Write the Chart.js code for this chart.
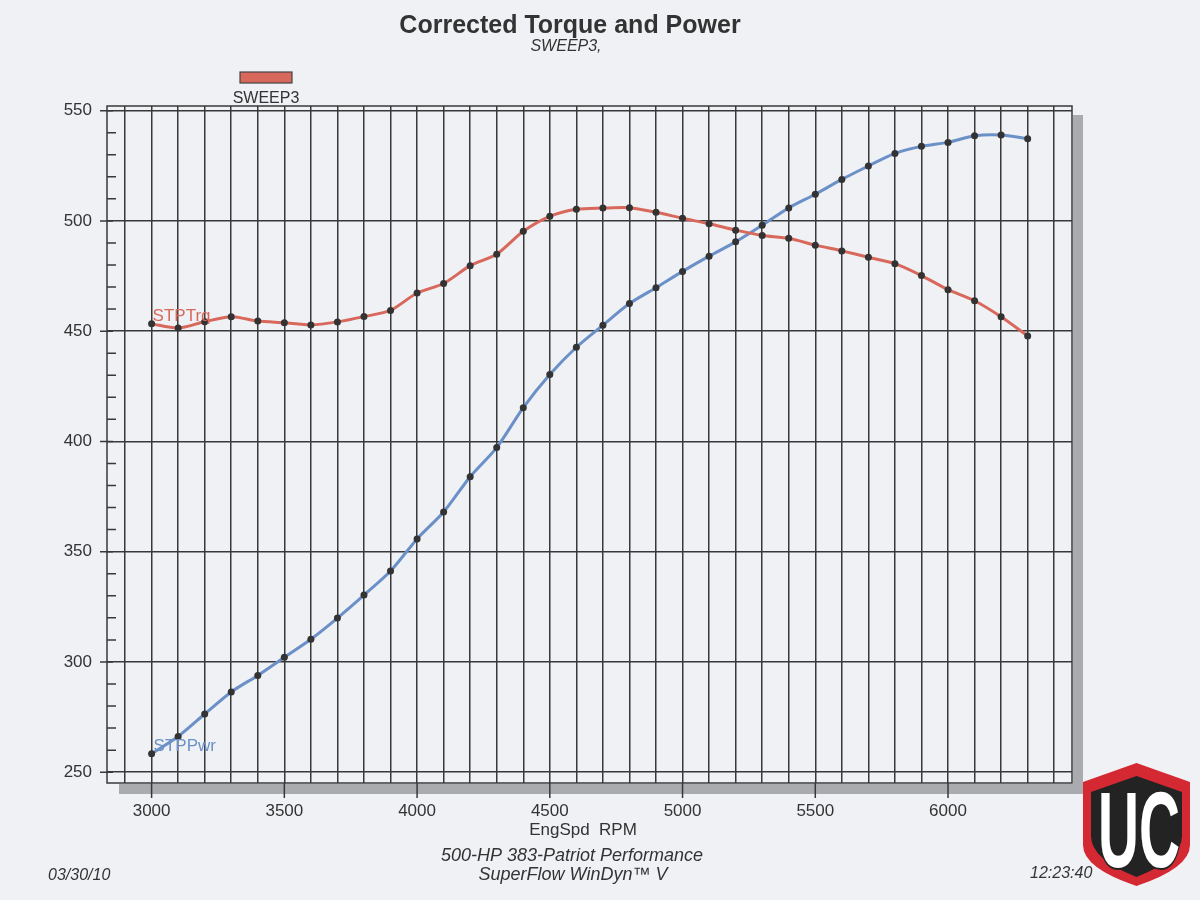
<!DOCTYPE html>
<html>
<head>
<meta charset="utf-8">
<script src="https://cdn.jsdelivr.net/npm/chart.js@4/dist/chart.umd.min.js"></script>
<style>
  body { margin: 0; background: #eff1f4; }
  #wrap { width: 1200px; height: 900px; }
</style>
</head>
<body>
<div id="wrap"><canvas id="dynoChart" width="1200" height="900"></canvas></div>
<script>
// engine speed (rpm) of each logged point
const rpm = [3000, 3100, 3200, 3300, 3400, 3500, 3600, 3700, 3800, 3900,
    4000, 4100, 4200, 4300, 4400, 4500, 4600, 4700, 4800, 4900,
    5000, 5100, 5200, 5300, 5400, 5500, 5600, 5700, 5800, 5900,
    6000, 6100, 6200, 6300]
// STPTrq (lb-ft)
const torque = [453.3, 451.4, 454.3, 456.5, 454.6, 453.8, 452.8, 454.2, 456.6, 459.4,
    467.3, 471.6, 479.7, 484.9, 495.3, 502.1, 505.3, 505.8, 506.0, 503.9,
    501.2, 498.7, 495.8, 493.4, 492.1, 489.0, 486.4, 483.5, 480.6, 475.2,
    468.8, 463.8, 456.5, 447.8]
// STPPwr (hp)
const power = [258.4, 266.2, 276.4, 286.4, 293.9, 302.1, 310.3, 319.9, 330.3, 341.2,
    355.8, 368.0, 384.0, 397.2, 415.3, 430.3, 442.7, 452.7, 462.5, 469.7,
    477.1, 484.0, 490.5, 498.0, 505.9, 512.1, 518.8, 524.9, 530.6, 533.8,
    535.6, 538.6, 539.0, 537.3]
const xTicks = [2900, 3000, 3100, 3200, 3300, 3400, 3500, 3600, 3700, 3800, 3900,
    4000, 4100, 4200, 4300, 4400, 4500, 4600, 4700, 4800, 4900, 5000, 5100,
    5200, 5300, 5400, 5500, 5600, 5700, 5800, 5900, 6000, 6100, 6200, 6300, 6400]
const yTicks = [250, 300, 350, 400, 450, 500, 550]
const yMinorTicks = [260, 270, 280, 290, 310, 320, 330, 340, 360, 370, 380, 390,
    410, 420, 430, 440, 460, 470, 480, 490, 510, 520, 530, 540]

const RED = '#d9685c'
const BLUE = '#6b90c8'
const INK = '#383838'
const FONT = '"Liberation Sans", Arial, sans-serif'

const paperPlugin = {
    id: 'paper',
    beforeDraw(chart) {
        const { ctx, chartArea: a } = chart
        ctx.save()
        ctx.fillStyle = '#eff1f4'
        ctx.fillRect(0, 0, chart.width, chart.height)
        // drop shadow of the plot box
        ctx.fillStyle = '#a9abae'
        ctx.fillRect(a.right + 1, a.top + 9, 10, a.bottom - a.top + 1)
        ctx.fillRect(a.left + 12, a.bottom + 1, a.right - a.left - 1, 10)
        ctx.restore()
    },
    beforeDatasetsDraw(chart) {
        const { ctx, chartArea: a, scales } = chart
        ctx.save()
        ctx.strokeStyle = INK
        ctx.lineWidth = 1.5
        ctx.strokeRect(a.left, a.top, a.right - a.left, a.bottom - a.top)
        ctx.beginPath()
        yTicks.forEach((v) => {
            const y = scales.y.getPixelForValue(v)
            ctx.moveTo(a.left - 7, y)
            ctx.lineTo(a.left + 6, y)
        })
        yMinorTicks.forEach((v) => {
            const y = scales.y.getPixelForValue(v)
            ctx.moveTo(a.left, y)
            ctx.lineTo(a.left + 9, y)
        })
        xTicks.filter((v) => v % 500 === 0).forEach((v) => {
            const x = scales.x.getPixelForValue(v)
            ctx.moveTo(x, a.bottom)
            ctx.lineTo(x, a.bottom + 15)
        })
        ctx.stroke()
        ctx.restore()
    },
    afterDraw(chart) {
        const { ctx, scales } = chart
        ctx.save()
        ctx.fillStyle = '#333'
        ctx.textAlign = 'center'
        ctx.textBaseline = 'alphabetic'
        ctx.font = 'bold 25px ' + FONT
        ctx.fillText('Corrected Torque and Power', 570, 33)
        ctx.font = 'italic 16px ' + FONT
        ctx.fillText('SWEEP3,', 566, 51)

        // legend
        ctx.fillStyle = RED
        ctx.fillRect(240, 72, 52, 11)
        ctx.strokeStyle = '#444'
        ctx.lineWidth = 1.2
        ctx.strokeRect(240, 72, 52, 11)
        ctx.fillStyle = '#333'
        ctx.font = '16px ' + FONT
        ctx.fillText('SWEEP3', 266, 103)

        // axis title and footer
        ctx.font = '17px ' + FONT
        ctx.fillText('EngSpd  RPM', 583, 835)
        ctx.font = 'italic 18px ' + FONT
        ctx.fillText('500-HP 383-Patriot Performance', 572, 861)
        ctx.fillText('SuperFlow WinDyn\u2122 V', 573, 880)
        ctx.font = 'italic 16px ' + FONT
        ctx.textAlign = 'left'
        ctx.fillText('03/30/10', 48, 880)
        ctx.fillText('12:23:40', 1030, 878)

        // series labels next to their first points
        const x0 = scales.x.getPixelForValue(rpm[0])
        ctx.font = '17px ' + FONT
        ctx.fillStyle = RED
        ctx.fillText('STPTrq', x0 + 1, scales.y.getPixelForValue(torque[0]) - 3)
        ctx.fillStyle = BLUE
        ctx.fillText('STPPwr', x0 + 2, scales.y.getPixelForValue(power[0]) - 3)

        // corner badge
        const shield = (l, r, top, shoulder, side, tip) => {
            const c = (l + r) / 2
            ctx.beginPath()
            ctx.moveTo(l, shoulder)
            ctx.lineTo(c, top)
            ctx.lineTo(r, shoulder)
            ctx.lineTo(r, side)
            ctx.quadraticCurveTo(r, tip - 18, c, tip)
            ctx.quadraticCurveTo(l, tip - 18, l, side)
            ctx.closePath()
        }
        shield(1083, 1190, 763, 782, 845, 886)
        ctx.fillStyle = '#d42833'
        ctx.fill()
        shield(1091, 1182, 776, 792, 836, 877)
        ctx.fillStyle = '#232323'
        ctx.fill()
        ctx.translate(1139, 867)
        ctx.scale(0.53, 1)
        ctx.font = 'bold 107px ' + FONT
        ctx.textAlign = 'center'
        ctx.fillStyle = '#ffffff'
        ctx.strokeStyle = '#232323'
        ctx.lineWidth = 4
        ctx.strokeText('UC', 0, 0)
        ctx.fillText('UC', 0, 0)
        ctx.restore()
    }
}

const dynoChart = new Chart(document.getElementById('dynoChart'), {
    type: 'line',
    data: {
        datasets: [
            {
                label: 'STPTrq',
                data: rpm.map((r, i) => ({ x: r, y: torque[i] })),
                borderColor: RED,
                borderWidth: 3,
                tension: 0.25,
                pointRadius: 3.5,
                pointBackgroundColor: '#333',
                pointBorderWidth: 0
            },
            {
                label: 'STPPwr',
                data: rpm.map((r, i) => ({ x: r, y: power[i] })),
                borderColor: BLUE,
                borderWidth: 3,
                tension: 0.25,
                pointRadius: 3.5,
                pointBackgroundColor: '#333',
                pointBorderWidth: 0
            }
        ]
    },
    options: {
        responsive: false,
        animation: false,
        events: [],
        layout: { padding: { top: 106, right: 128, left: 0, bottom: 0 } },
        plugins: {
            legend: { display: false },
            title: { display: false },
            tooltip: { enabled: false }
        },
        scales: {
            x: {
                type: 'linear',
                min: 2832,
                max: 6467,
                afterBuildTicks: (scale) => {
                    scale.ticks = xTicks.map((v) => ({ value: v }))
                },
                afterFit: (scale) => {
                    scale.height = 117
                },
                grid: { color: INK, lineWidth: 1.5, drawTicks: false },
                border: { display: false },
                ticks: {
                    autoSkip: false,
                    maxRotation: 0,
                    padding: 18,
                    color: '#333',
                    font: { family: FONT, size: 17 },
                    callback: (v) => (v % 500 === 0 ? String(v) : '')
                }
            },
            y: {
                min: 245.1,
                max: 552.1,
                afterBuildTicks: (scale) => {
                    scale.ticks = yTicks.map((v) => ({ value: v }))
                },
                afterFit: (scale) => {
                    scale.width = 107
                },
                grid: { color: INK, lineWidth: 1.5, drawTicks: false },
                border: { display: false },
                ticks: {
                    padding: 15,
                    color: '#333',
                    font: { family: FONT, size: 17 }
                }
            }
        }
    },
    plugins: [paperPlugin]
})
</script>
</body>
</html>
